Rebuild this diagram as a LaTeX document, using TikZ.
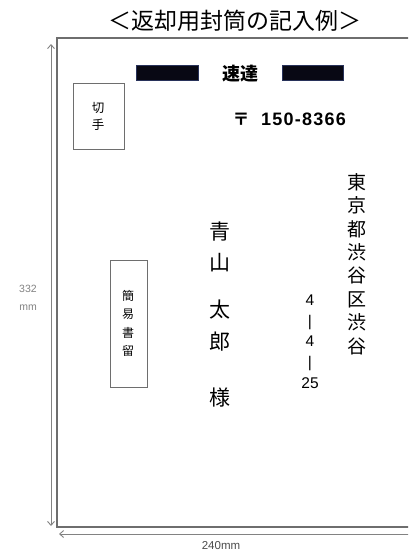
\documentclass[tikz,border=0pt]{standalone}
\usepackage{fontspec}
\newfontfamily\jp{Noto Sans CJK JP}
\setmainfont{Liberation Sans}
\newfontfamily\zipfont[LetterSpace=7]{Liberation Sans}
\usetikzlibrary{arrows.meta}
\definecolor{edge}{RGB}{110,110,110}
\definecolor{dim}{RGB}{130,130,130}
\definecolor{bar}{RGB}{8,8,20}
\definecolor{barline}{RGB}{40,50,90}
\tikzset{
  txt/.style={inner sep=0pt, outer sep=0pt, anchor=center, align=center},
  box/.style={draw=edge, line width=0.9pt},
  blackbar/.style={fill=bar, draw=barline, line width=0.8pt},
  dimarrow/.style={draw=dim, line width=0.9pt, {Straight Barb[length=4pt,width=7pt]}-{Straight Barb[length=4pt,width=7pt]}}
}
\begin{document}
\begin{tikzpicture}[x=1pt,y=-1pt]
\useasboundingbox (0,0) rectangle (408,554);
\clip (0,0) rectangle (408,554);
% title
\node[txt, font=\jp\fontsize{23}{23}\selectfont] (title) at (235,21) {＜返却用封筒の記入例＞};
% envelope
\draw[box, line width=1.1pt] (412,38) -- (57,38) -- (57,527) -- (412,527);
% dimension arrows
\coordinate (vt) at (51,44);
\coordinate (vb) at (51,526);
\draw[dimarrow] (vt) -- (vb);
\coordinate (hl) at (59,534);
\coordinate (hr) at (420,534);
\draw[dimarrow] (hl) -- (hr);
\node[txt, text=dim, font=\fontsize{10.5}{18}\selectfont] (h332) at (28,298) {332\\mm};
\node[txt, text=black!70, font=\fontsize{11.5}{11.5}\selectfont] (w240) at (221,546) {240mm};
% black bars and express
\draw[blackbar] (136,65) rectangle (198,80);
\draw[blackbar] (282,65) rectangle (343,80);
\node[txt, font=\jp\bfseries\fontsize{18}{18}\selectfont] (sokutatsu) at (240,74) {速達};
% stamp box
\node[box, minimum width=51pt, minimum height=66pt, inner sep=0pt] (stamp) at (98.5,116.5) {};
\node[txt, font=\jp\fontsize{12.5}{17}\selectfont] (stamptxt) at (98,116) {切\\手};
% postal code
\node[txt, font=\jp\bfseries\fontsize{17}{17}\selectfont] (zipmark) at (241,119) {〒};
\node[txt, font=\zipfont\bfseries\fontsize{18}{18}\selectfont, anchor=base west] (zip) at (261,125) {150-8366};
% address
\node[txt, font=\jp\fontsize{19}{23.45}\selectfont] (addr) at (357,264) {東\\京\\都\\渋\\谷\\区\\渋\\谷};
\node[txt, font=\fontsize{15.5}{20.7}\selectfont] (num) at (310,341.5) {4\\|\\4\\|\\25};
% name
\node[txt, font=\jp\fontsize{21}{30.5}\selectfont] (name1) at (220,247) {青\\山};
\node[txt, font=\jp\fontsize{21}{32}\selectfont] (name2) at (220,326) {太\\郎};
\node[txt, font=\jp\fontsize{21}{21}\selectfont] (sama) at (220,398) {様};
% kan-i kakitome box
\node[box, minimum width=37pt, minimum height=127pt, inner sep=0pt] (kbox) at (128.5,323.5) {};
\node[txt, font=\jp\fontsize{12}{18.3}\selectfont] (ktxt) at (128,323.5) {簡\\易\\書\\留};
\end{tikzpicture}
\end{document}
